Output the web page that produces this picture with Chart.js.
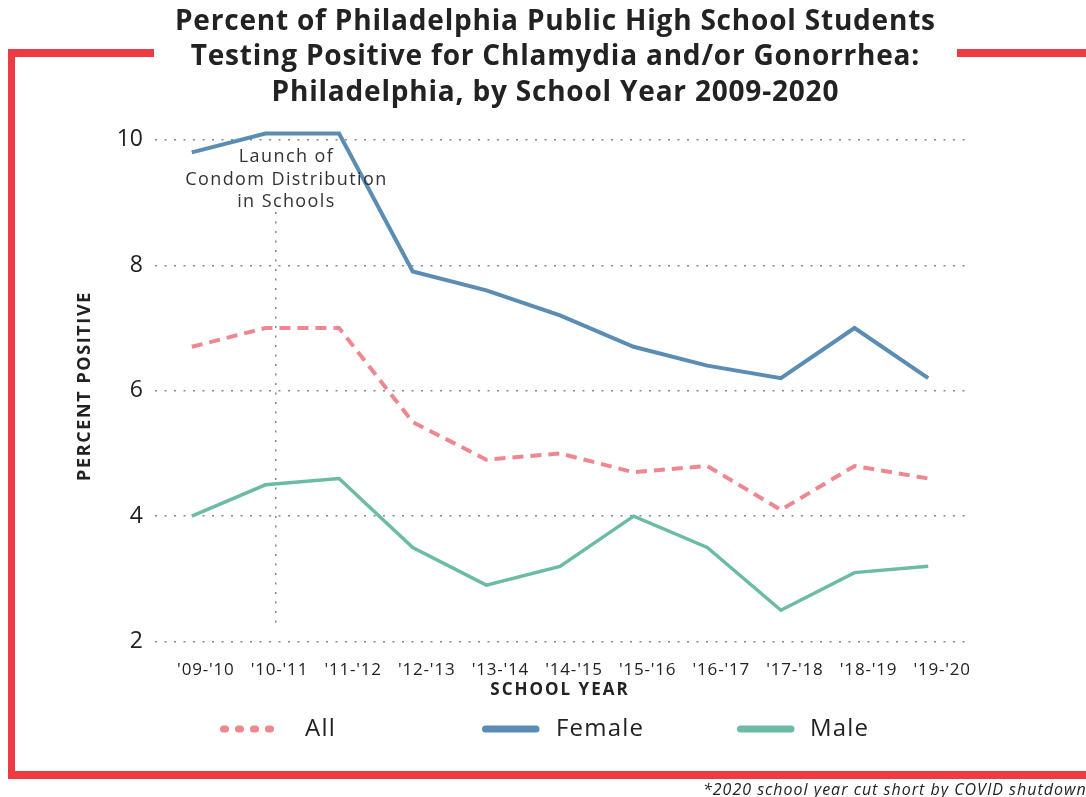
<!DOCTYPE html>
<html lang="en">
<head>
<meta charset="UTF-8">
<title>Philadelphia High School STI Positivity</title>
<script src="https://cdn.jsdelivr.net/npm/chart.js"></script>
<style>
  html, body { margin: 0; padding: 0; background: #fff; overflow: hidden; }
  #wrap { width: 1086px; height: 797px; position: relative; }
</style>
</head>
<body>
<div id="wrap"><canvas id="stdChart"></canvas></div>
<script>
const schoolYears = ["'09-'10", "'10-'11", "'11-'12", "'12-'13", "'13-'14", "'14-'15",
                     "'15-'16", "'16-'17", "'17-'18", "'18-'19", "'19-'20"];
const allStudents = [6.7, 7.0, 7.0, 5.5, 4.9, 5.0, 4.7, 4.8, 4.1, 4.8, 4.6];
const female      = [9.8, 10.1, 10.1, 7.9, 7.6, 7.2, 6.7, 6.4, 6.2, 7.0, 6.2];
const male        = [4.0, 4.5, 4.6, 3.5, 2.9, 3.2, 4.0, 3.5, 2.5, 3.1, 3.2];
const yTicks = [2, 4, 6, 8, 10];

const titleLines = [
    'Percent of Philadelphia Public High School Students',
    'Testing Positive for Chlamydia and/or Gonorrhea:',
    'Philadelphia, by School Year 2009-2020'
];
const launchNote = ['Launch of', 'Condom Distribution', 'in Schools'];
const launchIndex = 1.14;   // program started just after the '10-'11 year mark
const footnote = '*2020 school year cut short by COVID shutdown';

const FONT = "'Open Sans', 'DejaVu Sans', sans-serif";
const RED = '#ee3a43';
const INK = '#222';

// legend cells: where each sample line and its label start
const legendSampleX = [220, 482, 737];
const legendTextX = [305, 556, 810];

// wrap a scale drawing method so its text gets some tracking
function tracked(fn, spacing) {
    return function (...args) {
        const c = this.ctx;
        const prev = c.letterSpacing;
        c.letterSpacing = spacing;
        fn.apply(this, args);
        c.letterSpacing = prev;
    };
}

function spacedText(ctx, text, x, y, spacing) {
    ctx.letterSpacing = spacing + 'px';
    const shift = ctx.textAlign === 'center' ? spacing / 2 : 0;
    ctx.fillText(text, x + shift, y);
    ctx.letterSpacing = '0px';
}

// frame, title, launch marker, legend and footnote
const decorations = {
    id: 'decorations',
    afterUpdate(chart) {
        const sx = chart.scales.x, sy = chart.scales.y;
        if (!sx._tracked) {
            sx.drawLabels = tracked(sx.drawLabels, '0.8px');
            sx.drawTitle = tracked(sx.drawTitle, '2px');
            sy.drawTitle = tracked(sy.drawTitle, '1.6px');
            sx._tracked = true;
        }
    },
    beforeDraw(chart) {
        const ctx = chart.ctx;
        ctx.save();
        ctx.fillStyle = '#fff';
        ctx.fillRect(0, 0, chart.width, chart.height);
        ctx.fillStyle = RED;
        ctx.fillRect(8, 49, 7, 730);        // left side
        ctx.fillRect(8, 49, 146, 8);        // top, left piece
        ctx.fillRect(957, 49, 140, 8);      // top, right piece
        ctx.fillRect(8, 771, 1090, 8);      // bottom
        ctx.restore();
    },
    beforeDatasetsDraw(chart) {
        const ctx = chart.ctx;
        const x = chart.scales.x.getPixelForValue(launchIndex);
        ctx.save();
        ctx.strokeStyle = '#888';
        ctx.lineWidth = 1.5;
        ctx.setLineDash([2, 7.5]);
        ctx.beginPath();
        ctx.moveTo(x, 212);
        ctx.lineTo(x, 626);
        ctx.stroke();
        ctx.restore();
    },
    afterDraw(chart) {
        const ctx = chart.ctx;
        const area = chart.chartArea;
        ctx.save();

        // title
        ctx.fillStyle = INK;
        ctx.textAlign = 'center';
        ctx.textBaseline = 'middle';
        ctx.font = 'bold 28px ' + FONT;
        const cx = (area.left + area.right) / 2 - 5;
        titleLines.forEach((t, i) => spacedText(ctx, t, cx, 22 + i * 35.5, 0.8));

        // launch note
        const lx = chart.scales.x.getPixelForValue(launchIndex) + 10;
        ctx.font = '18px ' + FONT;
        ctx.fillStyle = '#333';
        launchNote.forEach((t, i) => spacedText(ctx, t, lx, 157 + i * 22.5, 1.4));

        // legend
        ctx.textAlign = 'left';
        ctx.font = '24px ' + FONT;
        chart.data.datasets.forEach((ds, i) => {
            const x0 = legendSampleX[i];
            const y = 729;
            ctx.save();
            ctx.strokeStyle = ds.borderColor;
            ctx.lineWidth = 7;
            ctx.lineCap = 'round';
            ctx.setLineDash(ds.borderDash && ds.borderDash.length ? [2, 13] : []);
            ctx.beginPath();
            ctx.moveTo(x0 + 3.5, y);
            ctx.lineTo(x0 + 54, y);
            ctx.stroke();
            ctx.restore();
            ctx.fillStyle = INK;
            spacedText(ctx, ds.label, legendTextX[i], y, 1.2);
        });

        // footnote
        ctx.font = 'italic 16px ' + FONT;
        ctx.fillStyle = INK;
        spacedText(ctx, footnote, 703, 790, 1);
        ctx.restore();
    }
};

const ctx = document.getElementById('stdChart').getContext('2d');
new Chart(ctx, {
    type: 'line',
    data: {
        labels: schoolYears,
        datasets: [
            {
                label: 'All',
                data: allStudents,
                borderColor: '#ee8790',
                borderWidth: 4,
                borderDash: [11, 7],
                pointRadius: 0,
                tension: 0
            },
            {
                label: 'Female',
                data: female,
                borderColor: '#5b8db4',
                borderWidth: 4,
                pointRadius: 0,
                tension: 0
            },
            {
                label: 'Male',
                data: male,
                borderColor: '#6cbba4',
                borderWidth: 3.5,
                pointRadius: 0,
                tension: 0
            }
        ]
    },
    options: {
        responsive: true,
        maintainAspectRatio: false,
        animation: false,
        layout: { padding: { top: 121, left: 74, right: 121, bottom: 97 } },
        plugins: {
            legend: { display: false },
            title: { display: false },
            tooltip: { enabled: false }
        },
        scales: {
            x: {
                offset: true,
                grid: { display: false },
                border: { display: false },
                ticks: {
                    color: INK,
                    font: { family: FONT, size: 17 },
                    padding: 1,
                    labelOffset: 14,
                    maxRotation: 0,
                    autoSkip: false
                },
                title: {
                    display: true,
                    text: 'SCHOOL YEAR',
                    color: INK,
                    font: { family: FONT, size: 17, weight: 'bold' },
                    padding: 0
                },
                afterFit(scale) { scale.height = 49; }
            },
            y: {
                min: 1.85,
                max: 10.3,
                grid: { color: '#888', lineWidth: 1.5, drawTicks: false },
                border: { display: false, dash: [2, 7.5] },
                ticks: {
                    color: INK,
                    font: { family: FONT, size: 23 },
                    padding: 12
                },
                afterBuildTicks(scale) {
                    scale.ticks = yTicks.map(v => ({ value: v }));
                },
                title: {
                    display: true,
                    text: 'PERCENT POSITIVE',
                    color: INK,
                    font: { family: FONT, size: 18, weight: 'bold' },
                    padding: 0
                },
                afterFit(scale) { scale.width = 81; }
            }
        }
    },
    plugins: [decorations]
});
</script>
</body>
</html>
